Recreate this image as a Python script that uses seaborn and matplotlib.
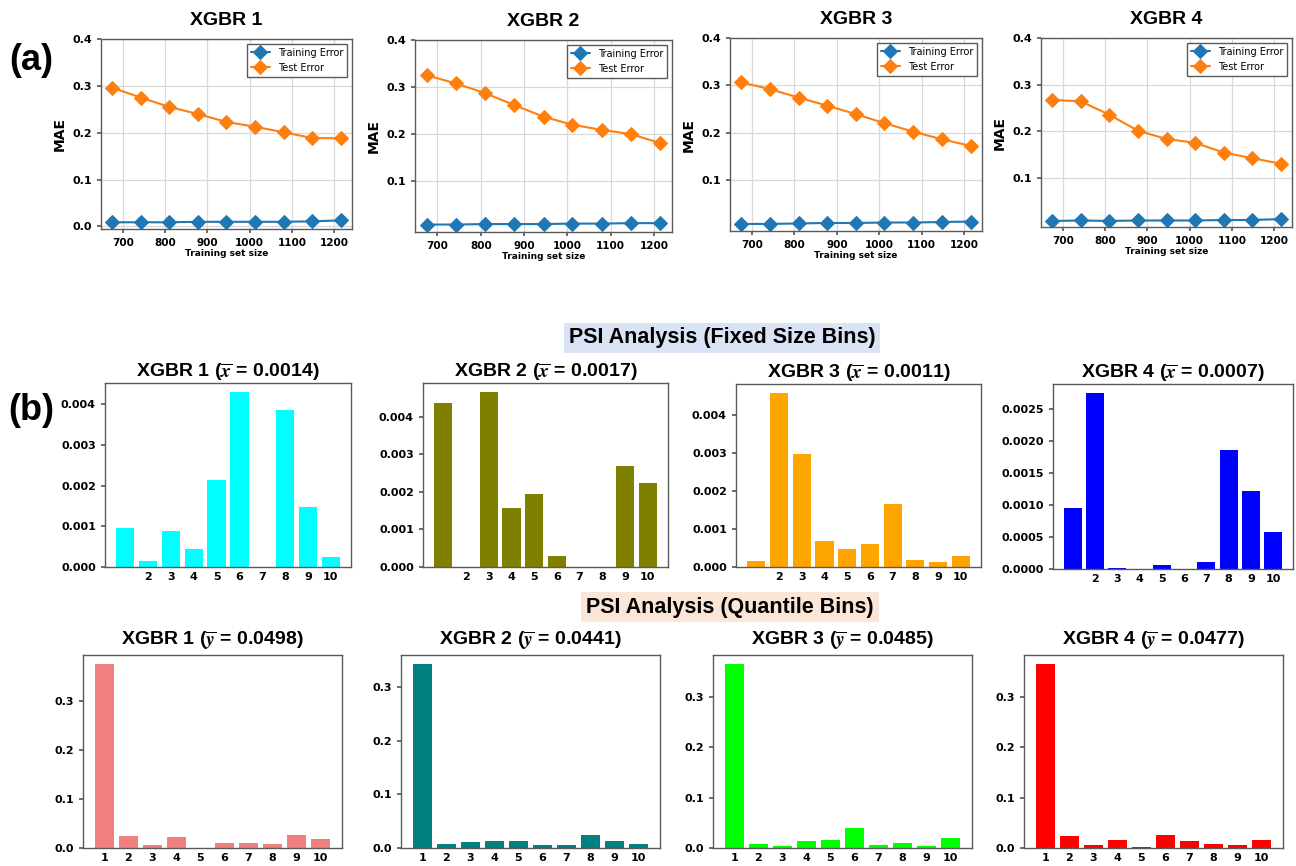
import matplotlib
matplotlib.use("Agg")
import matplotlib.pyplot as plt
import seaborn as sns

# ---------------- data ----------------
models = ["XGBR 1", "XGBR 2", "XGBR 3", "XGBR 4"]
train_sizes = [675, 742, 810, 877, 945, 1012, 1080, 1147, 1215]

train_err_1 = [0.009, 0.009, 0.009, 0.010, 0.010, 0.010, 0.010, 0.011, 0.013]
test_err_1 = [0.296, 0.275, 0.255, 0.240, 0.223, 0.213, 0.201, 0.189, 0.188]
train_err_2 = [0.008, 0.008, 0.009, 0.009, 0.009, 0.010, 0.010, 0.011, 0.011]
test_err_2 = [0.325, 0.308, 0.287, 0.262, 0.237, 0.220, 0.209, 0.200, 0.181]
train_err_3 = [0.007, 0.007, 0.008, 0.009, 0.009, 0.010, 0.010, 0.011, 0.012]
test_err_3 = [0.306, 0.292, 0.274, 0.257, 0.239, 0.220, 0.202, 0.186, 0.172]
train_err_4 = [0.007, 0.008, 0.007, 0.008, 0.008, 0.008, 0.009, 0.009, 0.011]
test_err_4 = [0.267, 0.264, 0.235, 0.201, 0.183, 0.175, 0.154, 0.142, 0.130]

mae_yticks = [[0.0, 0.1, 0.2, 0.3, 0.4], [0.1, 0.2, 0.3, 0.4],
              [0.1, 0.2, 0.3, 0.4], [0.1, 0.2, 0.3, 0.4]]

bins = [1, 2, 3, 4, 5, 6, 7, 8, 9, 10]
fixed_tick_labels = ["", "2", "3", "4", "5", "6", "7", "8", "9", "10"]
quant_tick_labels = ["1", "2", "3", "4", "5", "6", "7", "8", "9", "10"]

psi_fixed_1 = [0.00095, 0.00015, 0.00089, 0.00044, 0.00214, 0.00431, 0.0, 0.00387, 0.00148, 0.00024]
psi_fixed_2 = [0.00436, 0.0, 0.00467, 0.00156, 0.00194, 0.00029, 0.0, 0.0, 0.00269, 0.00225]
psi_fixed_3 = [0.00015, 0.00460, 0.00299, 0.00069, 0.00048, 0.00062, 0.00165, 0.00019, 0.00014, 0.00029]
psi_fixed_4 = [0.00095, 0.00276, 0.00001, 0.0, 0.00007, 0.000005, 0.00011, 0.00186, 0.00122, 0.00058]
fixed_means = ["0.0014", "0.0017", "0.0011", "0.0007"]
fixed_colors = ["#00FFFF", "#808000", "#FFA500", "#0000FF"]

psi_quant_1 = [0.3747, 0.0238, 0.0054, 0.0217, 0.0008, 0.0095, 0.0102, 0.0075, 0.0265, 0.0190]
psi_quant_2 = [0.3430, 0.0081, 0.0112, 0.0130, 0.0124, 0.0050, 0.0050, 0.0248, 0.0137, 0.0075]
psi_quant_3 = [0.3640, 0.0079, 0.0046, 0.0145, 0.0165, 0.0402, 0.0053, 0.0092, 0.0040, 0.0191]
psi_quant_4 = [0.3640, 0.0237, 0.0053, 0.0158, 0.0013, 0.0257, 0.0132, 0.0079, 0.0066, 0.0152]
quant_means = ["0.0498", "0.0441", "0.0485", "0.0477"]
quant_colors = ["#F08080", "#008080", "#00FF00", "#FF0000"]

train_errs = [train_err_1, train_err_2, train_err_3, train_err_4]
test_errs = [test_err_1, test_err_2, test_err_3, test_err_4]
psi_fixed = [psi_fixed_1, psi_fixed_2, psi_fixed_3, psi_fixed_4]
psi_quant = [psi_quant_1, psi_quant_2, psi_quant_3, psi_quant_4]

# ---------------- style ----------------
sns.set_theme(style="ticks")
plt.rcParams.update({
    "font.family": ["DejaVu Sans"],
    "font.weight": "bold",
    "text.color": "black",
    "axes.labelcolor": "black",
    "axes.titlecolor": "black",
    "axes.edgecolor": "#5a5a5a",
    "axes.linewidth": 1.0,
    "xtick.labelsize": 8,
    "ytick.labelsize": 8,
    "xtick.color": "#5a5a5a",
    "ytick.color": "#5a5a5a",
    "xtick.labelcolor": "black",
    "ytick.labelcolor": "black",
    "xtick.major.size": 3,
    "ytick.major.size": 3,
    "mathtext.fontset": "stix",
})

W, H = 1296, 866
fig = plt.figure(figsize=(W / 100, H / 100), dpi=100)


def add_ax(l, t, r, b):
    return fig.add_axes([l / W, 1 - b / H, (r - l) / W, (b - t) / H])


title_font = dict(family="Liberation Sans", weight="bold", size=14, color="black")

top_rects = [(101, 39, 352, 229), (415, 40, 672, 232), (730, 38, 982, 231), (1041, 38, 1292, 227)]
mid_rects = [(105, 383, 351, 567), (423, 383, 668, 567), (736, 384, 981, 567), (1053, 384, 1293, 569)]
bot_rects = [(83, 655, 342, 848), (401, 655, 660, 848), (713, 655, 972, 848), (1024, 655, 1283, 848)]

# ---------------- (a) learning curves ----------------
for i in range(4):
    ax = add_ax(*top_rects[i])
    sns.lineplot(x=train_sizes, y=train_errs[i], ax=ax, color="#1f77b4", marker="D",
                 markersize=7, markeredgecolor="#1f77b4", linewidth=1.5, label="Training Error")
    sns.lineplot(x=train_sizes, y=test_errs[i], ax=ax, color="#ff7f0e", marker="D",
                 markersize=7, markeredgecolor="#ff7f0e", linewidth=1.5, label="Test Error")
    ax.set_ylim(top=0.4)
    ax.set_yticks(mae_yticks[i])
    ax.set_xticks([700, 800, 900, 1000, 1100, 1200])
    ax.tick_params(axis="x", labelsize=7.5)
    ax.grid(True, color="#d8d8d8", linewidth=0.9)
    ax.set_axisbelow(True)
    ax.set_title(models[i], pad=10, **title_font)
    ax.set_ylabel("MAE", fontsize=10, fontweight="bold", labelpad=4)
    ax.set_xlabel("Training set size", fontsize=6.5, fontweight="bold", labelpad=1)
    ax.legend(loc="upper right", prop=dict(size=7, weight="normal"),
              edgecolor="#5a5a5a", fancybox=False, framealpha=1)

# ---------------- (b) PSI fixed size bins ----------------
for i in range(4):
    ax = add_ax(*mid_rects[i])
    sns.barplot(x=bins, y=psi_fixed[i], ax=ax, native_scale=True, color=fixed_colors[i],
                saturation=1, errorbar=None, linewidth=0, width=0.8)
    ax.set_xticks(bins)
    ax.set_xticklabels(fixed_tick_labels)
    ax.tick_params(axis="x", length=0)
    ax.set_xlabel("")
    ax.set_ylabel("")
    ax.set_title(models[i] + r" ($\overline{x}$ = " + fixed_means[i] + ")", pad=4, **title_font)

# ---------------- PSI quantile bins ----------------
for i in range(4):
    ax = add_ax(*bot_rects[i])
    sns.barplot(x=bins, y=psi_quant[i], ax=ax, native_scale=True, color=quant_colors[i],
                saturation=1, errorbar=None, linewidth=0, width=0.8)
    ax.set_xticks(bins)
    ax.set_xticklabels(quant_tick_labels)
    ax.tick_params(axis="x", length=0)
    ax.set_yticks([0.0, 0.1, 0.2, 0.3])
    ax.set_xlabel("")
    ax.set_ylabel("")
    ax.set_title(models[i] + r" ($\overline{y}$ = " + quant_means[i] + ")", pad=7, **title_font)

# ---------------- headers and panel letters ----------------
fig.text(722 / W, 1 - 338 / H, "PSI Analysis (Fixed Size Bins)", ha="center", va="center",
         family="Liberation Sans", weight="bold", size=15.5, color="black",
         bbox=dict(facecolor="#dae3f3", edgecolor="none", pad=3.5))
fig.text(730 / W, 1 - 607 / H, "PSI Analysis (Quantile Bins)", ha="center", va="center",
         family="Liberation Sans", weight="bold", size=15.5, color="black",
         bbox=dict(facecolor="#fbe5d6", edgecolor="none", pad=3.5))
fig.text(31 / W, 1 - 60 / H, "(a)", ha="center", va="center",
         family="Liberation Sans", weight="bold", size=26, color="black")
fig.text(31 / W, 1 - 411 / H, "(b)", ha="center", va="center",
         family="Liberation Sans", weight="bold", size=26, color="black")

fig.savefig("out.png", dpi=100, facecolor="white")
